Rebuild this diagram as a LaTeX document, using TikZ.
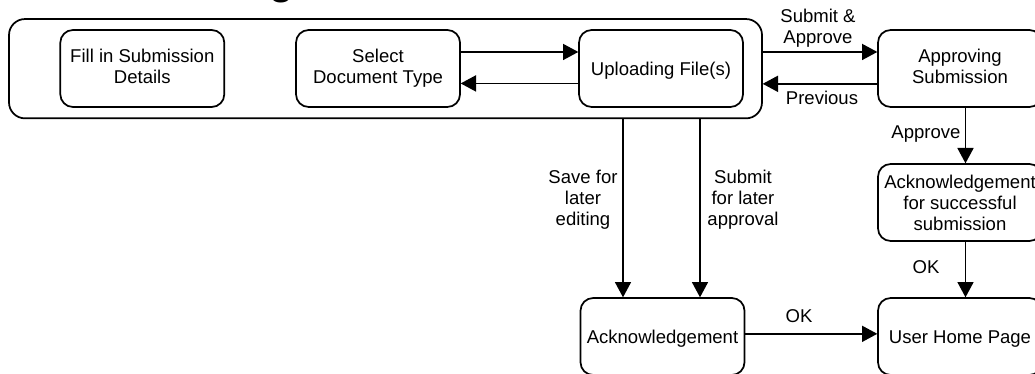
\documentclass[tikz,border=0pt]{standalone}
\usepackage{fontspec}
\setmainfont{Liberation Sans}
\usetikzlibrary{arrows.meta}
\tikzset{
  lbl/.style={align=center,inner sep=0pt,font=\fontsize{13.9}{15.8}\selectfont},
  stepbox/.style={draw,line width=1.3pt,rounded corners=9.5pt,minimum width=123pt,minimum height=57.75pt,inner sep=0pt,outer sep=0pt,align=center,font=\fontsize{13.9}{15.8}\selectfont},
  onebox/.style={stepbox,text height=13.2pt,text depth=3pt},
  twobox/.style={stepbox,text height=25.8pt,text depth=3pt},
  groupbox/.style={draw,line width=1.3pt,rounded corners=12pt,minimum width=564.75pt,minimum height=74.5pt,inner sep=0pt,outer sep=0pt},
  conn/.style={line width=1.3pt,-{Triangle[length=11.5pt,width=12pt]},shorten >=0.5pt}
}
\begin{document}
\begin{tikzpicture}[x=0.75pt,y=-0.75pt]
\clip (0,0) rectangle (1035,374);
\node[anchor=base,inner sep=0pt,font=\fontsize{30}{32}\selectfont\bfseries] (titleg) at (282,-5.5) {g};
\node[groupbox] (group) at (385.5,68.7) {};
\node[twobox] (fill) at (142.3,68.5) {Fill in Submission\\Details};
\node[twobox] (sel) at (378,68.5) {Select\\Document Type};
\node[onebox] (up) at (661,68.5) {Uploading File(s)};
\node[twobox] (appr) at (960,68.5) {Approving\\Submission};
\node[stepbox] (ack2) at (960,202.5) {Acknowledgement\\for successful\\submission};
\node[onebox] (ack) at (662.5,336.5) {Acknowledgement};
\node[onebox] (home) at (960,336.5) {User Home Page};
\draw[conn] ([yshift=12.4pt]sel.east) -- ([yshift=12.4pt]up.west);
\draw[conn] ([yshift=-11.2pt]up.west) -- ([yshift=-11.2pt]sel.east);
\coordinate (a1) at ([yshift=12.4pt]appr.west);
\coordinate (a2) at ([yshift=-11.5pt]appr.west);
\draw[conn] (group.east |- a1) -- (a1);
\draw[conn] (a2) -- (group.east |- a2);
\coordinate (d1) at (623,119);
\coordinate (d2) at (700,119);
\draw[conn] (d1 |- group.south) -- (d1 |- ack.north);
\draw[conn] (d2 |- group.south) -- (d2 |- ack.north);
\coordinate (d3) at (965.5,150);
\draw[conn] (d3 |- appr.south) -- (d3 |- ack2.north);
\draw[conn] (d3 |- ack2.south) -- (d3 |- home.north);
\draw[conn] ([yshift=2pt]ack.east) -- ([yshift=2pt]home.west);
\node[lbl] (t1) at (818,28) {Submit \&\\Approve};
\node[lbl] (t2) at (822,98) {Previous};
\node[lbl] (t3) at (926,134.5) {Approve};
\node[lbl] (t4) at (583,200) {Save for\\later\\editing};
\node[lbl] (t5) at (743,200) {Submit\\for later\\approval};
\node[lbl] (t6) at (926,267.5) {OK};
\node[lbl] (t7) at (799,316.5) {OK};
\end{tikzpicture}
\end{document}
